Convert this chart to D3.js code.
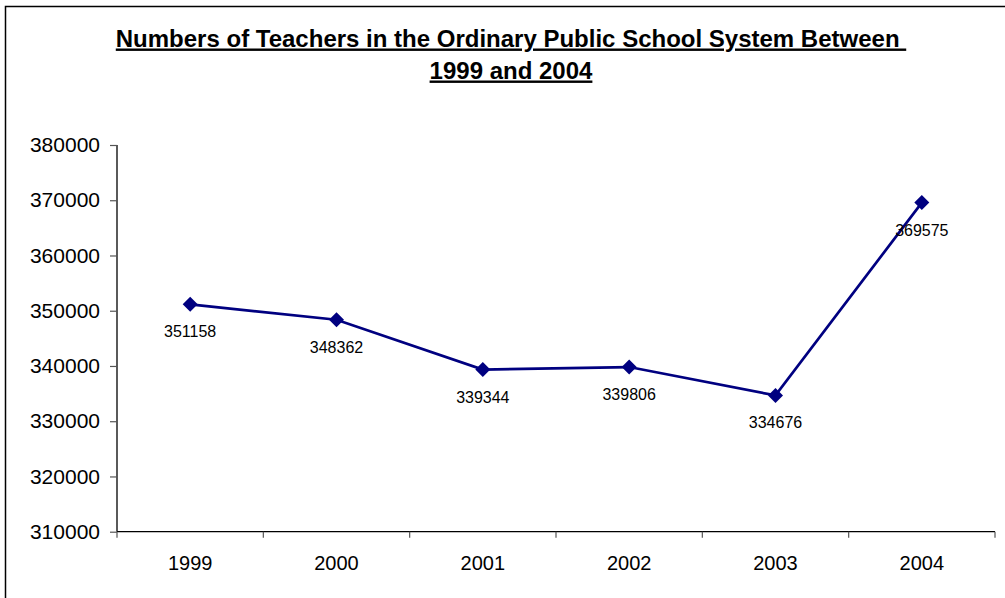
<!DOCTYPE html>
<html><head><meta charset="utf-8">
<script src="https://cdn.jsdelivr.net/npm/d3@7"></script>
<style>body{margin:0;background:#fff}svg{display:block}text{font-family:"Liberation Sans",Arial,sans-serif}</style>
</head><body>
<svg id="c" width="1005" height="598"></svg>
<script>
const years = ["1999","2000","2001","2002","2003","2004"];
const teachers = [351158, 348362, 339344, 339806, 334676, 369575];
const yTicks = [310000,320000,330000,340000,350000,360000,370000,380000];
const titleLines = ["Numbers of Teachers in the Ordinary Public School System Between ", "1999 and 2004"];

(function(){
const svg = d3.select("#c");
svg.append("rect").attr("x",5.5).attr("y",6.5).attr("width",1010).attr("height",600)
  .attr("fill","#fff").attr("stroke","#000").attr("stroke-width",1.5);

const pl=117, pr=995, pt=145, pb=531.7;
const x = d3.scaleBand().domain(years).range([pl,pr]);
const y = d3.scaleLinear().domain([310000,380000]).range([pb,pt]);

// title
const tY=[46.5,78.5];
titleLines.forEach((t,i)=>{
  svg.append("text").attr("x",511).attr("y",tY[i]).attr("text-anchor","middle")
    .attr("font-size",24).attr("font-weight","bold").attr("text-decoration","underline")
    .style("white-space","pre").attr("xml:space","preserve").text(t);
});

// y axis
const ya = svg.append("g").attr("transform",`translate(${pl},0)`)
  .call(d3.axisLeft(y).tickValues(yTicks).tickSize(7).tickPadding(10).tickFormat(d3.format("d")));
ya.select(".domain").attr("stroke","#000").attr("stroke-width",1.3).attr("d",`M0,${pt}V${pb}`);
ya.selectAll(".tick line").attr("stroke","#555").attr("stroke-width",1.2);
ya.selectAll(".tick text").attr("font-size",21).attr("fill","#000").attr("font-family","Liberation Sans, Arial, sans-serif");

// x axis
const xa = svg.append("g").attr("transform",`translate(0,${pb})`)
  .call(d3.axisBottom(x).tickSize(0).tickPadding(24));
xa.select(".domain").attr("stroke","#000").attr("stroke-width",1.3).attr("d",`M${pl},0H${pr}`);
xa.selectAll(".tick text").attr("font-size",20).attr("fill","#000").attr("font-family","Liberation Sans, Arial, sans-serif");
const edges = years.map(d=>x(d)).concat([pr]);
xa.selectAll(".edge").data(edges).enter().append("line")
  .attr("x1",d=>d).attr("x2",d=>d).attr("y1",0).attr("y2",6).attr("stroke","#555").attr("stroke-width",1.2);

// line
const cx = d=>x(d)+x.bandwidth()/2;
const line = d3.line().x((d,i)=>cx(years[i])).y(d=>y(d));
svg.append("path").datum(teachers).attr("d",line).attr("fill","none").attr("stroke","#000080").attr("stroke-width",2.7);

// markers
svg.selectAll(".m").data(teachers).enter().append("path")
  .attr("d","M0,-7.5L7.5,0L0,7.5L-7.5,0Z").attr("fill","#000080")
  .attr("transform",(d,i)=>`translate(${cx(years[i])},${y(d)})`);

// labels
svg.selectAll(".lb").data(teachers).enter().append("text")
  .attr("x",(d,i)=>cx(years[i])).attr("y",d=>y(d)+33).attr("text-anchor","middle")
  .attr("font-size",16).attr("fill","#000").text(d=>d);
})();
</script>
</body></html>
